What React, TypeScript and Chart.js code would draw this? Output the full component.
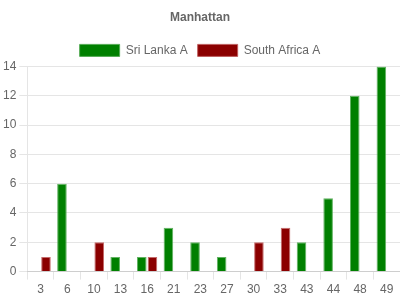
import React, { useEffect, useRef } from "react";
import { Chart, registerables } from "chart.js";

Chart.register(...registerables);

const overs = ["3", "6", "10", "13", "16", "21", "23", "27", "30", "33", "43", "44", "48", "49"];
const sriLankaA = [0, 6, 0, 1, 1, 3, 2, 1, 0, 0, 2, 5, 12, 14];
const southAfricaA = [1, 0, 2, 0, 1, 0, 0, 0, 2, 3, 0, 0, 0, 0];

export default function App() {
  const ref = useRef<HTMLCanvasElement | null>(null);
  useEffect(() => {
    document.body.style.margin = "0";
    const chart = new Chart(ref.current!, {
      type: "bar",
      data: {
        labels: overs,
        datasets: [
          {
            label: "Sri Lanka A",
            data: sriLankaA,
            backgroundColor: "#008000",
            borderColor: "rgba(80,170,80,0.9)",
            borderWidth: 1,
          },
          {
            label: "South Africa A",
            data: southAfricaA,
            backgroundColor: "#8B0000",
            borderColor: "rgba(190,90,90,0.9)",
            borderWidth: 1,
          },
        ],
      },
      options: {
        responsive: false,
        animation: false,
        plugins: {
          title: { display: true, text: "Manhattan", font: { size: 12, weight: "bold" }, color: "#666" },
          legend: { labels: { color: "#666" } },
        },
        scales: {
          x: {
            grid: { drawOnChartArea: false },
            ticks: { color: "#666" },
          },
          y: {
            min: 0,
            max: 14,
            ticks: { stepSize: 2, color: "#666" },
          },
        },
      },
    });
    return () => chart.destroy();
  }, []);
  return (
    <div style={{ position: "absolute", left: 0, top: 0, width: 400, height: 300 }}>
      <canvas ref={ref} width={400} height={300} />
    </div>
  );
}
